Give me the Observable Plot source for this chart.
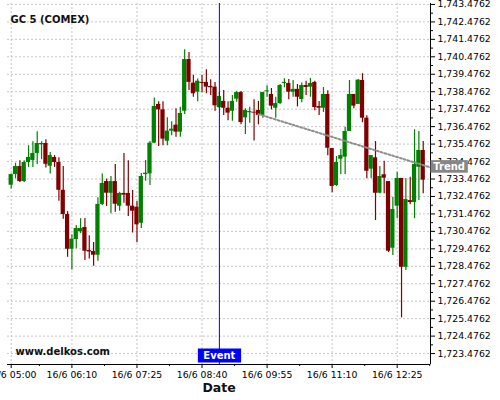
<!DOCTYPE html>
<html><head><meta charset="utf-8">
<script src="https://cdn.jsdelivr.net/npm/d3@7"></script>
<script src="https://cdn.jsdelivr.net/npm/@observablehq/plot@0.6"></script>
<style>
html,body{margin:0;padding:0;background:#fff;}
#chart{width:500px;height:400px;}
</style></head><body><div id="chart"></div>
<script>
const title = "GC 5 (COMEX)";
const watermark = "www.delkos.com";
const xLabel = "Date";
const firstCandle = "2020-06-16T05:00:00Z";
const candleMinutes = 5;

const open = [1733.12,1733.73,1734.19,1733.33,1734.42,1734.54,1734.94,1735.44,1735.51,1734.21,
1734.71,1734.42,1732.83,1731.44,1729.45,1730.01,1730.45,1730.70,1729.38,1729.32,
1729.11,1732.02,1733.33,1732.66,1733.33,1731.92,1732.65,1732.65,1731.92,1731.86,
1730.94,1733.73,1733.77,1735.53,1737.75,1737.44,1735.64,1736.22,1736.56,1736.16,
1737.36,1740.32,1738.97,1738.45,1739.01,1739.01,1738.78,1738.74,1737.56,1737.92,
1737.53,1737.36,1738.05,1738.43,1736.98,1737.27,1737.30,1737.40,1737.12,1738.47,
1738.32,1737.53,1737.80,1738.95,1738.95,1738.45,1738.61,1738.03,1738.83,1738.74,
1739.01,1737.63,1737.53,1738.32,1735.22,1733.10,1734.61,1734.73,1736.20,1738.32,
1737.75,1739.12,1736.96,1734.04,1734.69,1732.66,1733.72,1733.33,1729.51,1731.92,
1733.51,1728.42,1732.24,1732.13,1734.15,1735.11];
const high = [1733.76,1734.38,1734.52,1734.52,1735.38,1735.61,1736.18,1735.61,1735.72,1734.99,
1734.82,1734.69,1734.19,1731.61,1730.28,1730.81,1731.20,1731.22,1730.22,1729.84,
1732.40,1733.77,1733.47,1733.62,1734.31,1732.72,1734.94,1734.52,1732.82,1732.19,
1733.79,1734.54,1735.62,1738.11,1737.90,1737.90,1736.98,1736.75,1737.50,1737.59,
1740.88,1740.73,1739.42,1739.20,1739.42,1739.73,1739.16,1739.01,1738.45,1738.55,
1737.90,1738.26,1738.51,1738.49,1737.50,1737.59,1738.01,1737.92,1738.45,1738.82,
1738.66,1738.16,1738.89,1739.22,1739.18,1739.12,1738.89,1738.97,1739.08,1739.24,
1739.07,1737.92,1738.72,1738.53,1735.22,1734.77,1735.17,1736.44,1739.12,1738.32,
1739.18,1739.51,1737.10,1734.82,1735.62,1734.19,1734.50,1733.33,1732.42,1733.87,
1733.51,1733.51,1733.58,1736.30,1736.20,1735.62];
const low = [1732.91,1733.49,1733.28,1733.28,1734.14,1734.14,1734.31,1734.58,1734.10,1733.77,
1734.14,1732.20,1731.17,1728.99,1728.27,1729.48,1730.35,1728.81,1728.90,1728.48,
1728.77,1731.96,1731.90,1731.48,1731.57,1731.63,1732.09,1731.33,1730.39,1729.82,
1730.64,1733.35,1733.10,1735.49,1735.34,1735.38,1735.38,1735.95,1735.87,1735.87,
1737.17,1738.55,1738.16,1737.90,1738.42,1738.36,1738.26,1737.36,1737.52,1737.12,
1736.81,1736.79,1737.88,1736.58,1736.03,1736.67,1735.65,1736.58,1736.96,1738.16,
1737.44,1736.96,1737.75,1738.70,1738.01,1738.16,1737.61,1737.84,1738.26,1738.16,
1737.38,1737.12,1737.29,1734.81,1732.69,1733.05,1733.73,1733.73,1736.20,1737.50,
1737.75,1736.70,1733.49,1733.49,1731.10,1732.63,1732.63,1729.26,1729.09,1731.20,
1725.52,1728.23,1732.00,1731.20,1732.24,1732.63];
const close = [1733.73,1734.19,1733.33,1734.42,1734.71,1734.94,1735.51,1735.51,1734.32,1734.82,
1734.42,1732.83,1731.44,1729.45,1730.03,1730.64,1730.64,1729.34,1729.30,1729.11,
1732.02,1733.22,1732.66,1733.33,1732.03,1732.65,1732.55,1731.92,1731.63,1730.85,
1733.62,1733.81,1735.53,1737.63,1737.44,1735.76,1736.22,1736.33,1736.16,1737.23,
1740.32,1739.01,1738.36,1739.08,1738.95,1738.74,1738.70,1737.67,1738.20,1737.53,
1737.25,1737.92,1738.43,1736.71,1737.40,1737.34,1737.25,1737.12,1738.43,1738.53,
1737.65,1737.80,1738.83,1739.01,1738.45,1738.61,1738.16,1738.83,1738.72,1738.95,
1737.57,1737.53,1738.32,1735.24,1733.05,1734.42,1734.82,1736.20,1738.32,1737.65,
1739.14,1736.96,1733.92,1734.82,1732.66,1733.62,1733.52,1729.34,1731.73,1733.51,
1728.42,1732.30,1732.13,1734.31,1735.11,1733.41];

const xTickTimes = ["2020-06-16T05:00:00Z","2020-06-16T06:10:00Z","2020-06-16T07:25:00Z","2020-06-16T08:40:00Z","2020-06-16T09:55:00Z","2020-06-16T11:10:00Z","2020-06-16T12:25:00Z"];
const xMinorTimes = ["2020-06-16T05:32:30Z","2020-06-16T06:47:30Z","2020-06-16T08:02:30Z","2020-06-16T09:17:30Z","2020-06-16T10:32:30Z","2020-06-16T11:47:30Z","2020-06-16T13:02:30Z"];
const yTicks = [1723.4762,1724.4762,1725.4762,1726.4762,1727.4762,1728.4762,1729.4762,1730.4762,1731.4762,1732.4762,1733.4762,1734.4762,1735.4762,1736.4762,1737.4762,1738.4762,1739.4762,1740.4762,1741.4762,1742.4762,1743.4762];
const yMinorTicks = [1723.9762,1724.9762,1725.9762,1726.9762,1727.9762,1728.9762,1729.9762,1730.9762,1731.9762,1732.9762,1733.9762,1734.9762,1735.9762,1736.9762,1737.9762,1738.9762,1739.9762,1740.9762,1741.9762,1742.9762];
const xDomainTimes = ["2020-06-16T04:55:44Z","2020-06-16T13:03:24Z"];
const yDomain = [1722.85, 1743.53];
const eventTimes = ["2020-06-16T09:00:00Z"];
const eventLabels = ["Event"];
const trendTimes = ["2020-06-16T09:45:00Z","2020-06-16T13:03:24Z"];
const trendValues = [1737.19, 1734.14];
const trendLabel = "Trend";
const trendLabelValue = 1734.18;

const t0 = new Date(firstCandle).getTime();
const candles = open.map((o, i) => ({date: new Date(t0 + i * candleMinutes * 60000), open: o, high: high[i], low: low[i], close: close[i]}));
const xDomain = xDomainTimes.map(d => new Date(d));
const xTicks = xTickTimes.map(d => new Date(d));
const xMinor = xMinorTimes.map(d => new Date(d));
const events = eventTimes.map((d, i) => ({date: new Date(d), label: eventLabels[i]}));
const trend = trendTimes.map((d, i) => ({date: new Date(d), value: trendValues[i]}));
const trendLbl = [{date: xDomain[1], value: trendLabelValue, label: trendLabel}];

const green = "#008000", red = "#800000";
const col = d => d.close >= d.open ? green : red;
const half = 2.45 * 60000;
const gridStyle = {stroke: "#c6c6c6", strokeOpacity: 1, strokeDasharray: "2,2", strokeWidth: 1};

const plot = Plot.plot({
  width: 500, height: 400,
  marginTop: 3, marginRight: 70, marginBottom: 36, marginLeft: 7,
  style: {fontFamily: "'DejaVu Sans', sans-serif", fontSize: "9.3px", background: "#fff", color: "#000"},
  x: {type: "utc", domain: xDomain},
  y: {domain: yDomain},
  marks: [
    Plot.gridY(yTicks, gridStyle),
    Plot.gridX(xTicks, gridStyle),
    Plot.ruleX(candles, {x: "date", y1: "low", y2: "high", stroke: col, strokeWidth: 1.2}),
    Plot.rect(candles, {x1: d => new Date(+d.date - half), x2: d => new Date(+d.date + half), y1: "open", y2: "close", fill: col}),
    Plot.line(trend, {x: "date", y: "value", stroke: "#8e8e8e", strokeWidth: 2, strokeDasharray: "2,2"}),
    Plot.ruleX(events, {x: "date", stroke: "#0000ee", strokeWidth: 1}),
    Plot.ruleY([yDomain[0]], {stroke: "#000"}),
    Plot.ruleX([xDomain[1]], {stroke: "#000"}),
    Plot.axisY(yTicks, {anchor: "right", tickFormat: d3.format(",.4f"), tickSize: 4, tickPadding: 3, label: null}),
    Plot.axisY(yMinorTicks, {anchor: "right", tickSize: 2, tickFormat: () => "", label: null}),
    Plot.axisX(xTicks, {tickFormat: d3.utcFormat("%-d/%-m %H:%M"), tickSize: 4, tickPadding: 3, label: null}),
    Plot.axisX(xMinor, {tickSize: 2, tickFormat: () => "", label: null}),
    Plot.text(events, {x: "date", frameAnchor: "bottom", dy: -5.5, text: "label", fill: "#fff", fontWeight: "bold", fontSize: 10}),
    Plot.text(trendLbl, {x: "date", y: "value", text: "label", textAnchor: "start", dx: 2.8, fill: "#fff", fontWeight: "bold", fontSize: 10}),
    Plot.text([title], {text: d => d, frameAnchor: "top-left", dx: 3, dy: 12.7, fontWeight: "bold", fontSize: 10, textAnchor: "start", fill: "#111"}),
    Plot.text([watermark], {text: d => d, frameAnchor: "bottom-left", dx: 8, dy: -10, fontWeight: "bold", fontSize: 10, textAnchor: "start", fill: "#111"}),
    Plot.text([xLabel], {text: d => d, frameAnchor: "bottom", dy: 27, fontWeight: "bold", fontSize: 12.5, fill: "#111"})
  ]
});
document.getElementById("chart").append(plot);

function boxify(labels, fill, padX, h) {
  Array.from(plot.querySelectorAll("text")).filter(t => labels.includes(t.textContent)).forEach(t => {
    const b = t.getBBox();
    const r = document.createElementNS("http://www.w3.org/2000/svg", "rect");
    const cy = b.y + b.height / 2;
    r.setAttribute("x", b.x - padX);
    r.setAttribute("width", b.width + 2 * padX);
    r.setAttribute("y", cy - h / 2);
    r.setAttribute("height", h);
    r.setAttribute("fill", fill);
    const tr = t.getAttribute("transform");
    if (tr) r.setAttribute("transform", tr);
    t.parentNode.insertBefore(r, t);
  });
}
boxify(eventLabels, "#0000ff", 5.5, 14);
boxify([trendLabel], "#868686", 2.8, 12.6);
</script></body></html>
